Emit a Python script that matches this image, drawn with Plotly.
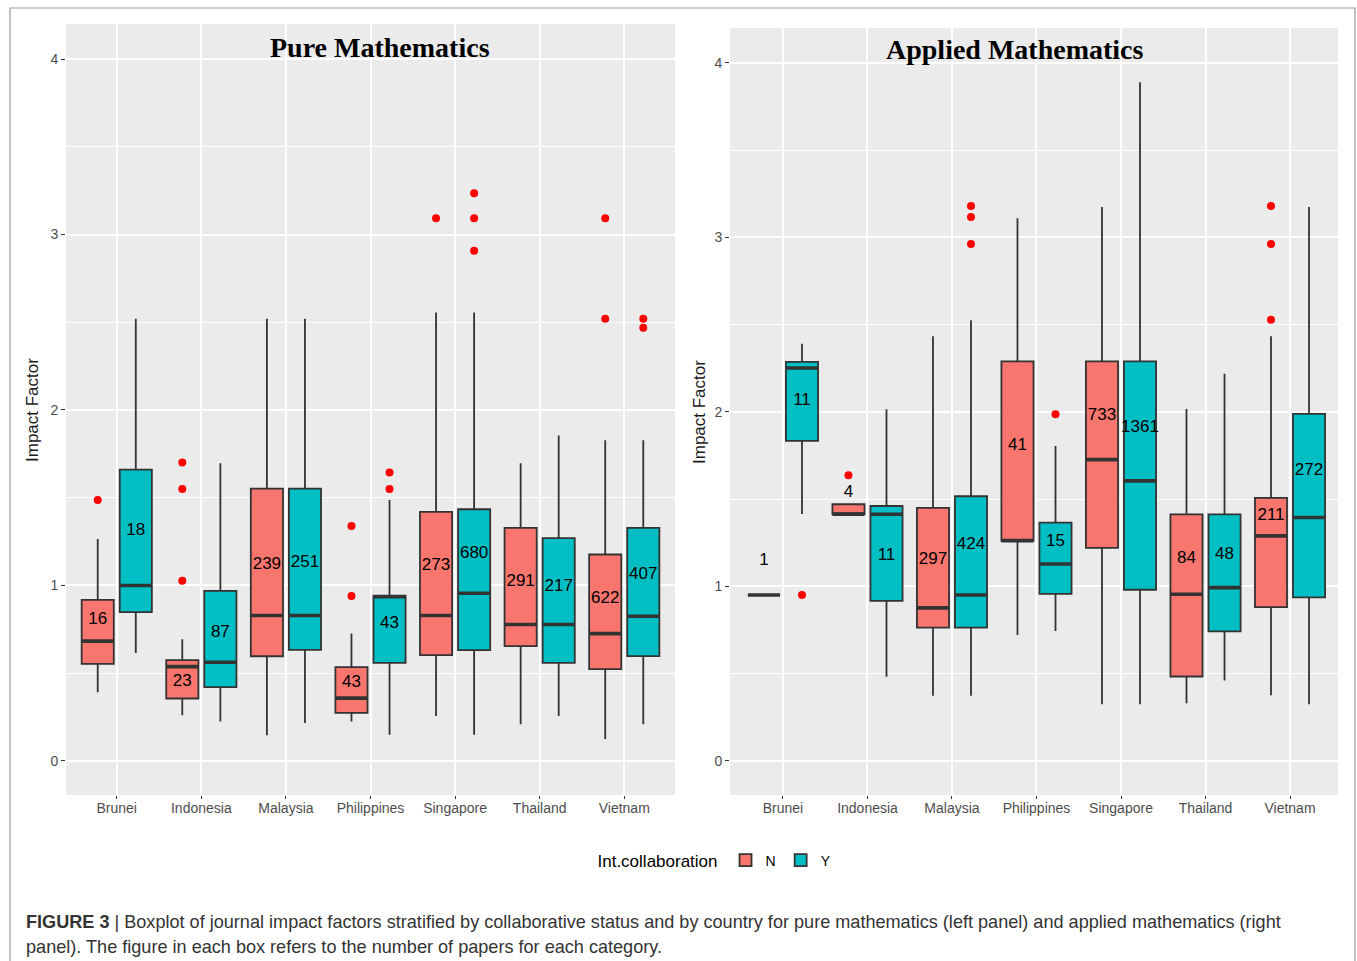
import plotly.graph_objects as go

# ---- categories ----
countries = ["Brunei", "Indonesia", "Malaysia", "Philippines", "Singapore", "Thailand", "Vietnam"]
positions = [1, 2, 3, 4, 5, 6, 7]

# ---- Pure Mathematics, no international collaboration (N) ----
pure_n_lo = [0.391, 0.260, 0.146, 0.224, 0.256, 0.209, 0.124]
pure_n_q1 = [0.553, 0.355, 0.596, 0.273, 0.602, 0.654, 0.522]
pure_n_med = [0.682, 0.537, 0.828, 0.357, 0.828, 0.777, 0.725]
pure_n_q3 = [0.917, 0.574, 1.552, 0.534, 1.419, 1.328, 1.176]
pure_n_hi = [1.265, 0.693, 2.520, 0.725, 2.555, 1.696, 1.827]
pure_n_count = [16, 23, 239, 43, 273, 291, 622]
pure_n_label_y = [0.803, 0.450, 1.117, 0.444, 1.111, 1.020, 0.923]
pure_n_out = [[1.487], [1.70, 1.55, 1.026], [], [1.339, 0.94], [3.092], [], [3.092, 2.52]]

# ---- Pure Mathematics, international collaboration (Y) ----
pure_y_lo = [0.614, 0.224, 0.215, 0.148, 0.148, 0.255, 0.209]
pure_y_q1 = [0.847, 0.420, 0.632, 0.558, 0.631, 0.558, 0.597]
pure_y_med = [0.999, 0.562, 0.828, 0.935, 0.955, 0.777, 0.824]
pure_y_q3 = [1.660, 0.969, 1.552, 0.942, 1.434, 1.269, 1.328]
pure_y_hi = [2.520, 1.696, 2.520, 1.487, 2.555, 1.854, 1.827]
pure_y_count = [18, 87, 251, 43, 680, 217, 407]
pure_y_label_y = [1.310, 0.729, 1.128, 0.780, 1.180, 0.990, 1.060]
pure_y_out = [[], [], [], [1.643, 1.55], [3.235, 3.092, 2.908], [], [2.52, 2.469]]

# ---- Applied Mathematics, N ----
appl_n_lo = [0.951, 1.414, 0.374, 0.722, 0.325, 0.331, 0.376]
appl_n_q1 = [0.951, 1.414, 0.764, 1.262, 1.221, 0.484, 0.881]
appl_n_med = [0.951, 1.414, 0.877, 1.262, 1.727, 0.955, 1.290]
appl_n_q3 = [0.951, 1.471, 1.450, 2.290, 2.290, 1.413, 1.508]
appl_n_hi = [0.951, 1.471, 2.434, 3.110, 3.175, 2.017, 2.434]
appl_n_count = [1, 4, 297, 41, 733, 84, 211]
appl_n_label_y = [1.146, 1.536, 1.152, 1.805, 1.977, 1.158, 1.404]
appl_n_out = [[], [1.637], [], [], [], [], [3.18, 2.963, 2.528]]

# ---- Applied Mathematics, Y ----
appl_y_lo = [1.415, 0.483, 0.374, 0.745, 0.325, 0.461, 0.325]
appl_y_q1 = [1.834, 0.917, 0.764, 0.957, 0.981, 0.743, 0.937]
appl_y_med = [2.252, 1.414, 0.951, 1.129, 1.605, 0.993, 1.395]
appl_y_q3 = [2.287, 1.461, 1.517, 1.366, 2.290, 1.413, 1.989]
appl_y_hi = [2.391, 2.015, 2.525, 1.805, 3.889, 2.219, 3.175]
appl_y_count = [11, 11, 424, 15, 1361, 48, 272]
appl_y_label_y = [2.063, 1.175, 1.238, 1.255, 1.908, 1.181, 1.662]
appl_y_out = [[0.951], [], [3.18, 3.117, 2.963], [1.987], [], [], []]

COL_N = "#F8766D"
COL_Y = "#00BFC4"
EDGE = "#333333"
OFFSET = 0.225
BOX_W = 0.38

W, H = 1357, 961


def px_x(p):
    return p / W


def px_y(p):
    return (H - p) / H


fig = go.Figure()


def add_group(xa, ya, shift, color, name, lo, q1, med, q3, hi, counts, label_y, outliers, legend):
    xs = [p + shift for p in positions]
    fig.add_trace(go.Box(
        x=xs, q1=q1, median=med, q3=q3, lowerfence=lo, upperfence=hi,
        width=BOX_W, whiskerwidth=0, boxpoints=False,
        fillcolor=color, line=dict(color=EDGE, width=1.8),
        name=name, legendgroup=name, showlegend=legend,
        xaxis=xa, yaxis=ya, hoverinfo="skip",
    ))
    # heavier median bar
    mx, my = [], []
    for x, m in zip(xs, med):
        mx += [x - BOX_W / 2, x + BOX_W / 2, None]
        my += [m, m, None]
    fig.add_trace(go.Scatter(
        x=mx, y=my, mode="lines", line=dict(color=EDGE, width=3.6),
        showlegend=False, xaxis=xa, yaxis=ya, hoverinfo="skip",
    ))
    # outliers
    ox, oy = [], []
    for x, pts in zip(xs, outliers):
        for v in pts:
            ox.append(x)
            oy.append(v)
    fig.add_trace(go.Scatter(
        x=ox, y=oy, mode="markers", marker=dict(color="#FF0000", size=8),
        showlegend=False, xaxis=xa, yaxis=ya, hoverinfo="skip",
    ))
    # paper counts
    fig.add_trace(go.Scatter(
        x=xs, y=label_y, mode="text", text=[str(c) for c in counts],
        textposition="middle center",
        textfont=dict(family="Liberation Sans, Arial", size=17, color="#000000"),
        showlegend=False, xaxis=xa, yaxis=ya, hoverinfo="skip",
    ))


add_group("x", "y", -OFFSET, COL_N, "N", pure_n_lo, pure_n_q1, pure_n_med, pure_n_q3, pure_n_hi,
          pure_n_count, pure_n_label_y, pure_n_out, True)
add_group("x", "y", OFFSET, COL_Y, "Y", pure_y_lo, pure_y_q1, pure_y_med, pure_y_q3, pure_y_hi,
          pure_y_count, pure_y_label_y, pure_y_out, True)
add_group("x2", "y2", -OFFSET, COL_N, "N", appl_n_lo, appl_n_q1, appl_n_med, appl_n_q3, appl_n_hi,
          appl_n_count, appl_n_label_y, appl_n_out, False)
add_group("x2", "y2", OFFSET, COL_Y, "Y", appl_y_lo, appl_y_q1, appl_y_med, appl_y_q3, appl_y_hi,
          appl_y_count, appl_y_label_y, appl_y_out, False)

tick_font = dict(family="Liberation Sans, Arial", size=14, color="#4D4D4D")

xaxis_common = dict(
    tickmode="array", tickvals=positions, ticktext=countries,
    showgrid=True, gridcolor="white", gridwidth=1.6, zeroline=False,
    ticks="outside", ticklen=3, tickcolor=EDGE, tickwidth=1.2,
    ticklabelstandoff=-3,
    tickfont=tick_font, showline=False, automargin=False,
)
yaxis_common = dict(
    range=[-0.195, 4.2], tickmode="array", tickvals=[0, 1, 2, 3, 4],
    showgrid=True, gridcolor="white", gridwidth=1.6, zeroline=False,
    minor=dict(tickmode="array", tickvals=[0.5, 1.5, 2.5, 3.5], showgrid=True,
               gridcolor="white", gridwidth=0.7),
    ticks="outside", ticklen=4, tickcolor=EDGE, tickwidth=1.2,
    tickfont=tick_font, showline=False, automargin=False,
)

fig.update_layout(
    width=W, height=H,
    margin=dict(l=0, r=0, t=0, b=0),
    paper_bgcolor="white", plot_bgcolor="#EBEBEB",
    boxmode="overlay",
    xaxis=dict(domain=[px_x(66), px_x(675)], range=[0.4, 7.6], anchor="y", **xaxis_common),
    yaxis=dict(domain=[px_y(795), px_y(24)], anchor="x", **yaxis_common),
    xaxis2=dict(domain=[px_x(730), px_x(1338)], range=[0.373, 7.568], anchor="y2", **xaxis_common),
    yaxis2=dict(domain=[px_y(795), px_y(28)], anchor="x2", **yaxis_common),
    legend=dict(
        orientation="h", x=px_x(716), xanchor="center", y=px_y(861), yanchor="middle",
        title=dict(text="Int.collaboration", font=dict(family="Liberation Sans, Arial", size=17, color="#000000")),
        font=dict(family="Liberation Sans, Arial", size=14, color="#000000"),
        bgcolor="rgba(0,0,0,0)", itemwidth=30, tracegroupgap=0,
    ),
    showlegend=True,
)

caption_font = dict(family="Liberation Sans, Arial", size=18.1, color="#333333")

annotations = [
    dict(text="<b>Pure Mathematics</b>", x=px_x(380), y=px_y(48), xref="paper", yref="paper",
         xanchor="center", yanchor="middle", showarrow=False,
         font=dict(family="Liberation Serif, Times New Roman", size=28, color="#000000")),
    dict(text="<b>Applied Mathematics</b>", x=px_x(1015), y=px_y(50), xref="paper", yref="paper",
         xanchor="center", yanchor="middle", showarrow=False,
         font=dict(family="Liberation Serif, Times New Roman", size=28, color="#000000")),
    dict(text="Impact Factor", x=px_x(33), y=px_y(410), xref="paper", yref="paper",
         xanchor="center", yanchor="middle", textangle=-90, showarrow=False,
         font=dict(family="Liberation Sans, Arial", size=17, color="#1A1A1A")),
    dict(text="Impact Factor", x=px_x(699), y=px_y(412), xref="paper", yref="paper",
         xanchor="center", yanchor="middle", textangle=-90, showarrow=False,
         font=dict(family="Liberation Sans, Arial", size=17, color="#1A1A1A")),
    dict(text="<b>FIGURE 3</b> | Boxplot of journal impact factors stratified by collaborative status and by "
              "country for pure mathematics (left panel) and applied mathematics (right",
         x=px_x(24), y=px_y(922), xref="paper", yref="paper",
         xanchor="left", yanchor="middle", align="left", showarrow=False, font=caption_font),
    dict(text="panel). The figure in each box refers to the number of papers for each category.",
         x=px_x(24), y=px_y(947), xref="paper", yref="paper",
         xanchor="left", yanchor="middle", align="left", showarrow=False, font=caption_font),
]
fig.update_layout(annotations=annotations)

# frame around the figure and caption
fig.add_shape(type="rect", xref="paper", yref="paper",
              x0=px_x(10), x1=px_x(1355), y0=-0.05, y1=px_y(8),
              line=dict(color="#9A9A9A", width=1.2), fillcolor="rgba(0,0,0,0)", layer="below")

fig.write_html("out.html")
